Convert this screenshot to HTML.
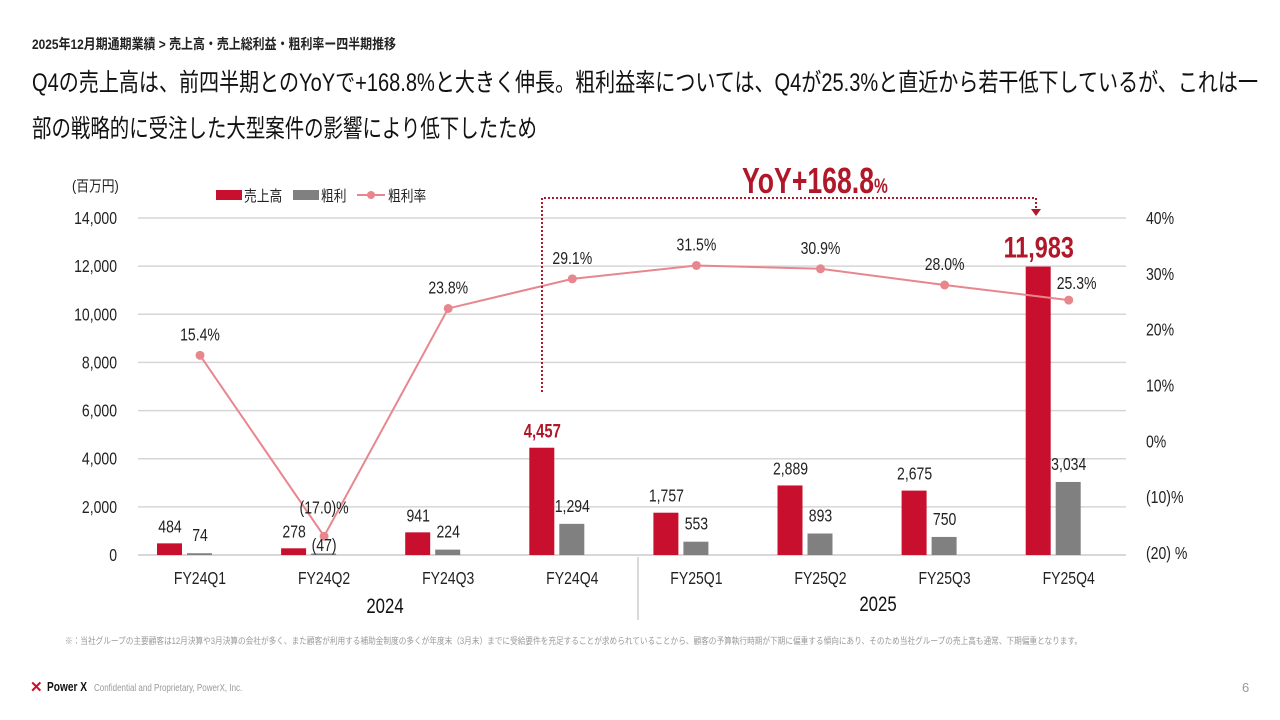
<!DOCTYPE html>
<html><head><meta charset="utf-8"><style>
html,body{margin:0;padding:0;background:#fff;}
svg{display:block;font-family:"Liberation Sans Narrow","Liberation Sans","Noto Sans CJK JP",sans-serif;}
</style></head><body>
<svg id="chart" width="1280" height="720" viewBox="0 0 1280 720">
<text x="32" y="49" font-size="14" font-weight="bold" fill="#222" textLength="364" lengthAdjust="spacingAndGlyphs">2025年12月期通期業績 &gt; 売上高・売上総利益・粗利率ー四半期推移</text>
<text x="32" y="91" font-size="25" fill="#111" textLength="1226" lengthAdjust="spacingAndGlyphs">Q4の売上高は、前四半期とのYoYで+168.8%と大きく伸長。粗利益率については、Q4が25.3%と直近から若干低下しているが、これは一</text>
<text x="32" y="137" font-size="25" fill="#111" textLength="505" lengthAdjust="spacingAndGlyphs">部の戦略的に受注した大型案件の影響により低下したため</text>
<text transform="translate(72,191) scale(0.85,1)" font-size="15" fill="#222">(百万円)</text>
<g>
<rect x="216" y="190" width="26" height="10" fill="#c8102e"/>
<text transform="translate(244,201) scale(0.85,1)" font-size="15" fill="#222">売上高</text>
<rect x="293" y="190" width="26" height="10" fill="#808080"/>
<text transform="translate(321,201) scale(0.85,1)" font-size="15" fill="#222">粗利</text>
<line x1="357" y1="195" x2="385" y2="195" stroke="#e8868e" stroke-width="2"/>
<circle cx="371" cy="195" r="4" fill="#e8868e"/>
<text transform="translate(388,201) scale(0.85,1)" font-size="15" fill="#222">粗利率</text>
</g>
<g id="grid"></g><g id="bars"></g><g id="line"></g><g id="labels"></g>
<line x1="638" y1="557" x2="638" y2="620" stroke="#ccc" stroke-width="1.5"/>
<text transform="translate(385,613) scale(0.8,1)" font-size="21" text-anchor="middle" fill="#111">2024</text>
<text transform="translate(878,611) scale(0.8,1)" font-size="21" text-anchor="middle" fill="#111">2025</text>
<polyline points="542,392 542,198 1036,198 1036,210" fill="none" stroke="#b0182a" stroke-width="2" stroke-dasharray="2,2"/>
<polygon points="1031,209 1041,209 1036,216" fill="#b0182a"/>
<text transform="translate(742,193) scale(0.74,1)" font-size="36" font-weight="bold" fill="#b0182a">YoY+168.8<tspan font-size="21">%</tspan></text>
<text x="65" y="644" font-size="9" fill="#999" textLength="1017" lengthAdjust="spacingAndGlyphs">※：当社グループの主要顧客は12月決算や3月決算の会社が多く、また顧客が利用する補助金制度の多くが年度末（3月末）までに受給要件を充足することが求められていることから、顧客の予算執行時期が下期に偏重する傾向にあり、そのため当社グループの売上高も通常、下期偏重となります。</text>
<text x="30" y="692" font-size="15" font-weight="bold" fill="#c8102e">✕</text>
<text transform="translate(47,691) scale(0.78,1)" font-size="13" font-weight="bold" fill="#111">Power X</text>
<text transform="translate(94,691) scale(0.8,1)" font-size="10" fill="#999">Confidential and Proprietary, PowerX, Inc.</text>
<text x="1242" y="692" font-size="13" fill="#999">6</text>
</svg>
<script>
const categories=["FY24Q1","FY24Q2","FY24Q3","FY24Q4","FY25Q1","FY25Q2","FY25Q3","FY25Q4"];
const sales=[484,278,941,4457,1757,2889,2675,11983];
const gross=[74,-47,224,1294,553,893,750,3034];
const margin=[15.4,-17.0,23.8,29.1,31.5,30.9,28.0,25.3];
const salesLabels=["484","278","941","4,457","1,757","2,889","2,675","11,983"];
const grossLabels=["74","(47)","224","1,294","553","893","750","3,034"];
const marginLabels=["15.4%","(17.0)%","23.8%","29.1%","31.5%","30.9%","28.0%","25.3%"];
const leftTicks=[0,2000,4000,6000,8000,10000,12000,14000];
const rightTicks=[40,30,20,10,0,-10,-20];
const rightTickLabels=["40%","30%","20%","10%","0%","(10)%","(20) %"];
const NS="http://www.w3.org/2000/svg";
const SX=0.78;
const yL=v=>555-v*(337/14000);
const yR=v=>553-(v+20)*(335/60);
const xC=i=>200+i*124.1;
function mk(tag,attrs,parent,text){const e=document.createElementNS(NS,tag);for(const k in attrs)e.setAttribute(k,attrs[k]);if(text!==undefined)e.textContent=text;document.getElementById(parent).appendChild(e);return e;}
function txt(x,y,attrs,parent,str){attrs.transform="translate("+x+","+y+") scale("+SX+",1)";return mk("text",attrs,parent,str);}
leftTicks.forEach(t=>{
 const g=mk("line",{x1:138,x2:1126,y1:yL(t),y2:yL(t),stroke:t===0?"#ccc":"#d6d6d6","stroke-width":1.5},"grid");
 
 
 const l=txt(117,yL(t)+6,{"font-size":18,"text-anchor":"end",fill:"#222"},"grid",t.toLocaleString("en-US"));
 
 
});
rightTicks.forEach((t,i)=>{
 const l=txt(1146,yR(t)+6,{"font-size":18,fill:"#222"},"grid",rightTickLabels[i]);
 
 
});
categories.forEach((c,i)=>{
 const cx=xC(i);
 const rb=mk("rect",{x:cx-43,y:yL(sales[i]),width:25,height:yL(0)-yL(sales[i]),fill:"#c8102e"},"bars");
 
 
 const gv=Math.max(gross[i],0);
 const gb=mk("rect",{x:cx-13,y:Math.min(yL(gv),yL(0)-1.5),width:25,height:Math.max(yL(0)-yL(gv),1.5),fill:"#808080"},"bars");
 
 
 const xl=txt(cx,584,{"font-size":18,"text-anchor":"middle",fill:"#222"},"labels",c);
 
 
 let sl;
 if(i===7){sl=txt(cx-30,yL(sales[i])-9,{"font-size":30,"font-weight":"bold","text-anchor":"middle",fill:"#b0182a"},"labels",salesLabels[i]);}
 else if(i===3){sl=txt(cx-30,yL(sales[i])-10,{"font-size":19,"font-weight":"bold","text-anchor":"middle",fill:"#b0182a"},"labels",salesLabels[i]);}
 else{sl=txt(cx-30,yL(sales[i])-11,{"font-size":18,"text-anchor":"middle",fill:"#222"},"labels",salesLabels[i]);}
 
 
 const gyy=gross[i]<0?yL(0)-4:yL(gv)-12;
 const gl=txt(cx,gyy,{"font-size":18,"text-anchor":"middle",fill:"#222"},"labels",grossLabels[i]);
 
 
});
const pts=margin.map((m,i)=>xC(i)+","+yR(m)).join(" ");
const pl=mk("polyline",{points:pts,fill:"none",stroke:"#e8868e","stroke-width":2},"line");


margin.forEach((m,i)=>{
 const d=mk("circle",{cx:xC(i),cy:yR(m),r:4.5,fill:"#e8868e"},"line");
 
 
 let lx=xC(i),ly=yR(m)-15,anc="middle";
 if(i===1){ly=yR(m)-23;}
 if(i===7){lx=xC(i)-12;ly=yR(m)-11;anc="start";}
 const t=txt(lx,ly,{"font-size":18,"text-anchor":anc,fill:"#222"},"labels",marginLabels[i]);
 
 
});
</script>
</body></html>
